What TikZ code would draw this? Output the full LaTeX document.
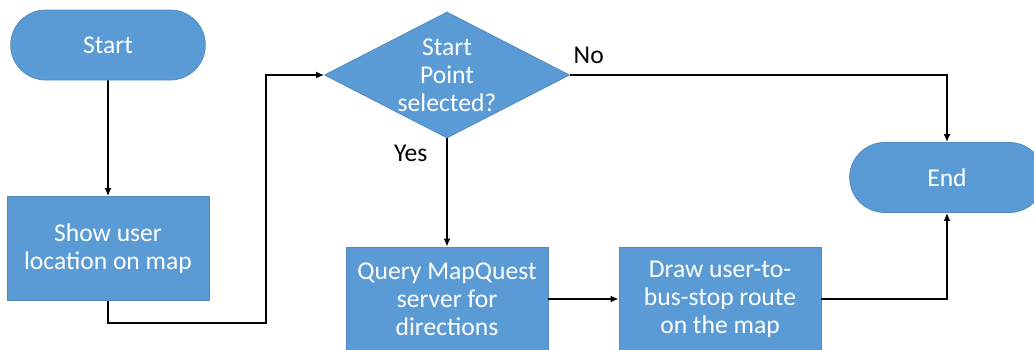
\documentclass[tikz,border=0pt]{standalone}
\usepackage{fontspec}
\setmainfont{Carlito}
\usetikzlibrary{shapes.geometric,shapes.misc,positioning,arrows.meta}
\definecolor{flowblue}{HTML}{5B9BD5}

\begin{document}
\begin{tikzpicture}[
x=0.5pt, y=-0.5pt,
every node/.style={font=\fontsize{12.8}{14}\selectfont},
terminal/.style={rounded rectangle, fill=flowblue, draw=flowblue!90!black, text=white,
	minimum width=104pt, minimum height=35pt},
process/.style={rectangle, fill=flowblue, draw=flowblue!90!black, text=white, align=center,
	minimum width=101pt, minimum height=52pt},
decision/.style={diamond, fill=flowblue, draw=flowblue!90!black, text=white, align=center,
	inner sep=-6pt, minimum width=122.5pt, minimum height=63pt},
link/.style={draw, line width=0.9pt, -{Latex[length=4pt,width=3.5pt]}},
]
\useasboundingbox (0,0) rectangle (1034,349);

% nodes
\node[terminal] (start) at (108,45) {Start};
\node[process] (show) at (108,248.5) {Show user\\location on map};
\node[decision] (select) at (447,75) {Start\\Point\\selected?};
\node[process] (query) at (447,299) {Query MapQuest\\server for\\directions};
\node[process] (route) at (720,299) {Draw user-to-\\bus-stop route\\on the map};
\node[terminal] (end) at (947,177.5) {End};
\coordinate (bend) at (266,323);

% connectors
\draw[link] (start) -- (show);
\draw[link] (show.south) |- (bend) |- (select.west);
\draw[link] (select.east) -| node[pos=0.025, above, yshift=2pt] {No} (end.north);
\draw[link] (select.south) -- node[pos=0.14, left, xshift=-6pt] {Yes} (query.north);
\draw[link] (query) -- (route);
\draw[link] (route.east) -| (end.south);
\end{tikzpicture}
\end{document}
